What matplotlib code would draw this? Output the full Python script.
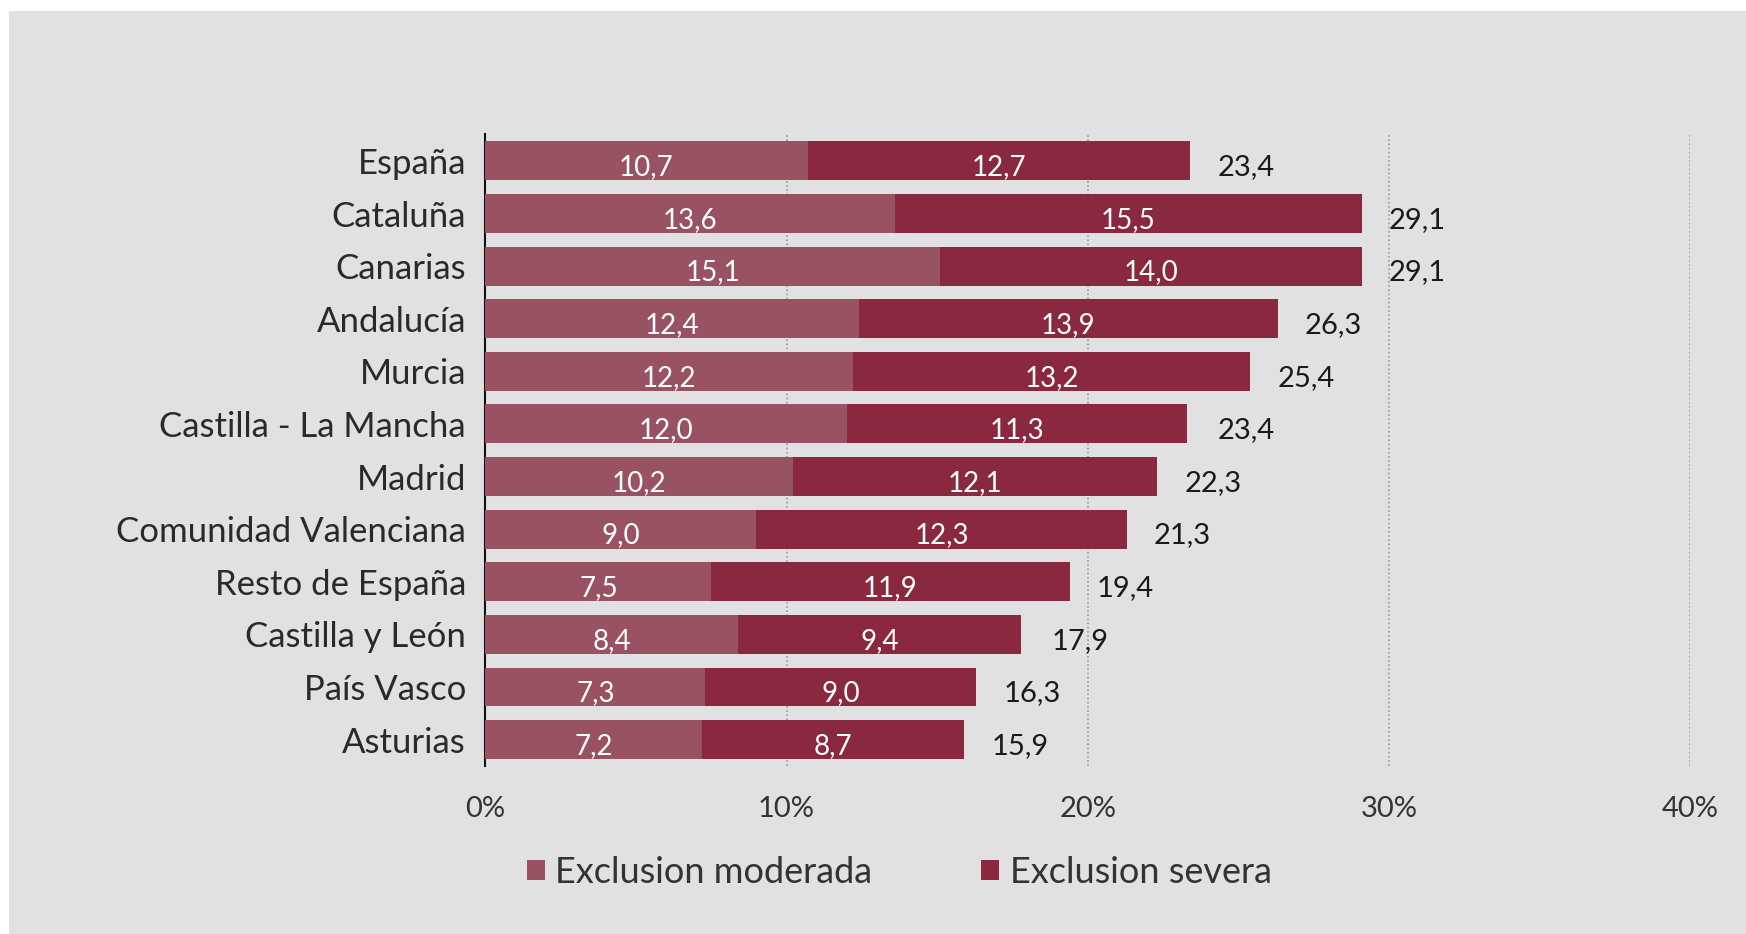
import matplotlib.pyplot as plt
from matplotlib.patches import Rectangle

regiones = ["España", "Cataluña", "Canarias", "Andalucía", "Murcia",
            "Castilla - La Mancha", "Madrid", "Comunidad Valenciana",
            "Resto de España", "Castilla y León", "País Vasco", "Asturias"]
moderada = [10.7, 13.6, 15.1, 12.4, 12.2, 12.0, 10.2, 9.0, 7.5, 8.4, 7.3, 7.2]
severa = [12.7, 15.5, 14.0, 13.9, 13.2, 11.3, 12.1, 12.3, 11.9, 9.4, 9.0, 8.7]
total = [23.4, 29.1, 29.1, 26.3, 25.4, 23.4, 22.3, 21.3, 19.4, 17.9, 16.3, 15.9]
ticks = [0, 10, 20, 30, 40]

c_mod = '#985261'
c_sev = '#8a2840'
bg = '#e1e1e1'

plt.rcParams['font.family'] = ['Lato', 'DejaVu Sans']

fig = plt.figure(figsize=(17.46, 9.34), dpi=100)
fig.patches.append(Rectangle((0.005, 0), 0.995, 0.988, transform=fig.transFigure,
                             facecolor=bg, edgecolor='none', zorder=-10))
ax = fig.add_axes([0.278, 0.180, 0.690, 0.677])
ax.set_facecolor(bg)
ax.patch.set_alpha(0)

y = list(range(len(regiones)))
h = 0.74
ax.barh(y, moderada, height=h, color=c_mod, label='Exclusion moderada', zorder=3)
ax.barh(y, severa, left=moderada, height=h, color=c_sev, label='Exclusion severa', zorder=3)

def fmt(v):
    return f"{v:.1f}".replace('.', ',')

for i in range(len(regiones)):
    ax.text(moderada[i] / 2, i + 0.12, fmt(moderada[i]), ha='center', va='center',
            color='white', fontsize=20, zorder=4)
    ax.text(moderada[i] + severa[i] / 2, i + 0.12, fmt(severa[i]), ha='center', va='center',
            color='white', fontsize=20, zorder=4)
    ax.text(total[i] + 0.9, i + 0.12, fmt(total[i]), ha='left', va='center',
            color='#1a1a1a', fontsize=21, zorder=4)

ax.set_xlim(0, 40)
ax.set_ylim(len(regiones) - 0.5, -0.52)
ax.set_yticks(y)
ax.set_yticklabels(regiones, fontsize=25, color='#2a2a2a')
ax.set_xticks(ticks)
ax.set_xticklabels([f"{t}%" for t in ticks], fontsize=21, color='#333333')
ax.tick_params(axis='y', length=0, pad=14)
ax.tick_params(axis='x', length=0, pad=22)
ax.xaxis.grid(True, linestyle=(0, (1, 1.5)), color='#9a9a9a', linewidth=1.2, zorder=0)
for s in ['top', 'right', 'bottom']:
    ax.spines[s].set_visible(False)
ax.spines['left'].set_color('#111111')
ax.spines['left'].set_linewidth(1.5)

fig.legend(loc='center', bbox_to_anchor=(0.515, 0.066), ncol=2, frameon=False,
           fontsize=26, handlelength=0.5, handleheight=0.5, handletextpad=0.3,
           columnspacing=3.0, labelcolor='#333333')

plt.savefig('out.png', dpi=100, facecolor='white')
